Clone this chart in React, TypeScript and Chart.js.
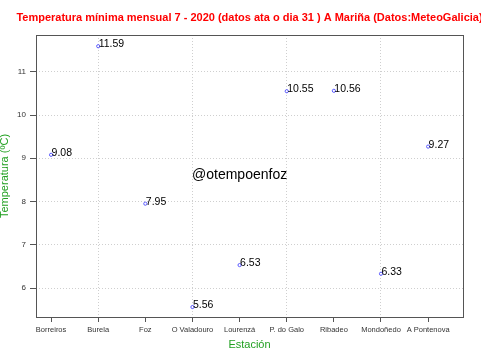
import React, { useEffect, useRef } from "react";
import { Chart, registerables } from "chart.js";

Chart.register(...registerables);

const TITLE = "Temperatura mínima mensual 7 - 2020 (datos ata o dia 31 ) A Mariña (Datos:MeteoGalicia)";
const X_TITLE = "Estación";
const Y_TITLE = "Temperatura (ºC)";
const WATERMARK = "@otempoenfoz";
const WATERMARK_POS = { x: 5, y: 8.52 };

const stations = [
  "Borreiros",
  "Burela",
  "Foz",
  "O Valadouro",
  "Lourenzá",
  "P. do Galo",
  "Ribadeo",
  "Mondoñedo",
  "A Pontenova",
];
const temps = [9.08, 11.59, 7.95, 5.56, 6.53, 10.55, 10.56, 6.33, 9.27];
const yTicks = [6, 7, 8, 9, 10, 11];
const xGridAt = [2, 4, 6, 8];

const FONT = "Arial, 'Liberation Sans', sans-serif";
const GREEN = "#22a022";
const GRID = "#cfcfcf";

export default function App() {
  const ref = useRef<HTMLCanvasElement | null>(null);

  useEffect(() => {
    const canvas = ref.current;
    if (!canvas) return;

    const overlay = {
      id: "overlay",
      afterDatasetsDraw(chart: any) {
        const ctx = chart.ctx;
        const { left, right, top, bottom } = chart.chartArea;
        ctx.save();
        ctx.strokeStyle = "#555";
        ctx.lineWidth = 1;
        ctx.strokeRect(Math.round(left) + 0.5, Math.round(top) + 0.5, Math.round(right - left), Math.round(bottom - top));
        ctx.fillStyle = "#000";
        ctx.font = `10.5px ${FONT}`;
        ctx.textAlign = "left";
        ctx.textBaseline = "alphabetic";
        const meta = chart.getDatasetMeta(0);
        meta.data.forEach((pt: any, i: number) => {
          ctx.fillText(temps[i].toFixed(2), pt.x + 0.5, pt.y + 1);
        });
        ctx.font = `14px ${FONT}`;
        ctx.textAlign = "center";
        ctx.fillText(
          WATERMARK,
          chart.scales.x.getPixelForValue(WATERMARK_POS.x),
          chart.scales.y.getPixelForValue(WATERMARK_POS.y)
        );
        ctx.font = `bold 11px ${FONT}`;
        ctx.fillStyle = "#ff0000";
        ctx.textBaseline = "middle";
        ctx.fillText(TITLE, (left + right) / 2, 18);
        ctx.restore();
      },
    };

    const chart = new Chart(canvas, {
      type: "scatter",
      data: {
        datasets: [
          {
            data: temps.map((t, i) => ({ x: i + 1, y: t })),
            pointStyle: "circle",
            pointRadius: 1.6,
            pointBorderWidth: 1,
            borderColor: "#5a5aff",
            backgroundColor: "rgba(0,0,0,0)",
            showLine: false,
          },
        ],
      },
      options: {
        animation: false,
        responsive: false,
        devicePixelRatio: 1,
        layout: { padding: { top: 35, right: 18, left: 0, bottom: 0 } },
        plugins: {
          legend: { display: false },
          tooltip: { enabled: false },
          title: { display: false },
        },
        scales: {
          x: {
            type: "linear",
            min: 0.68,
            max: 9.74,
            afterFit(scale: any) {
              scale.height = 44;
            },
            afterBuildTicks(scale: any) {
              scale.ticks = stations.map((_, i) => ({ value: i + 1 }));
            },
            border: { display: false, dash: [1, 2] },
            grid: {
              color: (c: any) =>
                c.tick && xGridAt.includes(c.tick.value) ? GRID : "rgba(0,0,0,0)",
              lineWidth: 1,
              tickColor: "#555",
              tickLength: 5,
              tickBorderDash: [],
            },
            ticks: {
              autoSkip: false,
              maxRotation: 0,
              padding: 3,
              color: "#333",
              font: { family: FONT, size: 7.5 },
              callback: (v: any) => stations[Math.round(Number(v)) - 1] ?? "",
            },
            title: {
              display: true,
              text: X_TITLE,
              color: GREEN,
              font: { family: FONT, size: 11 },
              padding: { top: 0, bottom: 9.4 },
            },
          },
          y: {
            type: "linear",
            min: 5.33,
            max: 11.85,
            afterFit(scale: any) {
              scale.width = 36;
            },
            afterBuildTicks(scale: any) {
              scale.ticks = yTicks.map((v) => ({ value: v }));
            },
            border: { display: false, dash: [1, 2] },
            grid: {
              color: GRID,
              lineWidth: 1,
              tickColor: "#555",
              tickLength: 6,
              tickBorderDash: [],
            },
            ticks: {
              padding: 4,
              color: "#333",
              font: { family: FONT, size: 8 },
              callback: (v: any) => String(v),
            },
            title: {
              display: true,
              text: Y_TITLE,
              color: GREEN,
              font: { family: FONT, size: 11, lineHeight: 0.9 },
              padding: { top: 0, bottom: 0 },
            },
          },
        },
      },
      plugins: [overlay],
    } as any);

    return () => chart.destroy();
  }, []);

  return (
    <div style={{ position: "absolute", left: 0, top: 0, width: 481, height: 361, background: "#fff" }}>
      <canvas ref={ref} width={481} height={361} style={{ display: "block", width: 481, height: 361 }} />
    </div>
  );
}
